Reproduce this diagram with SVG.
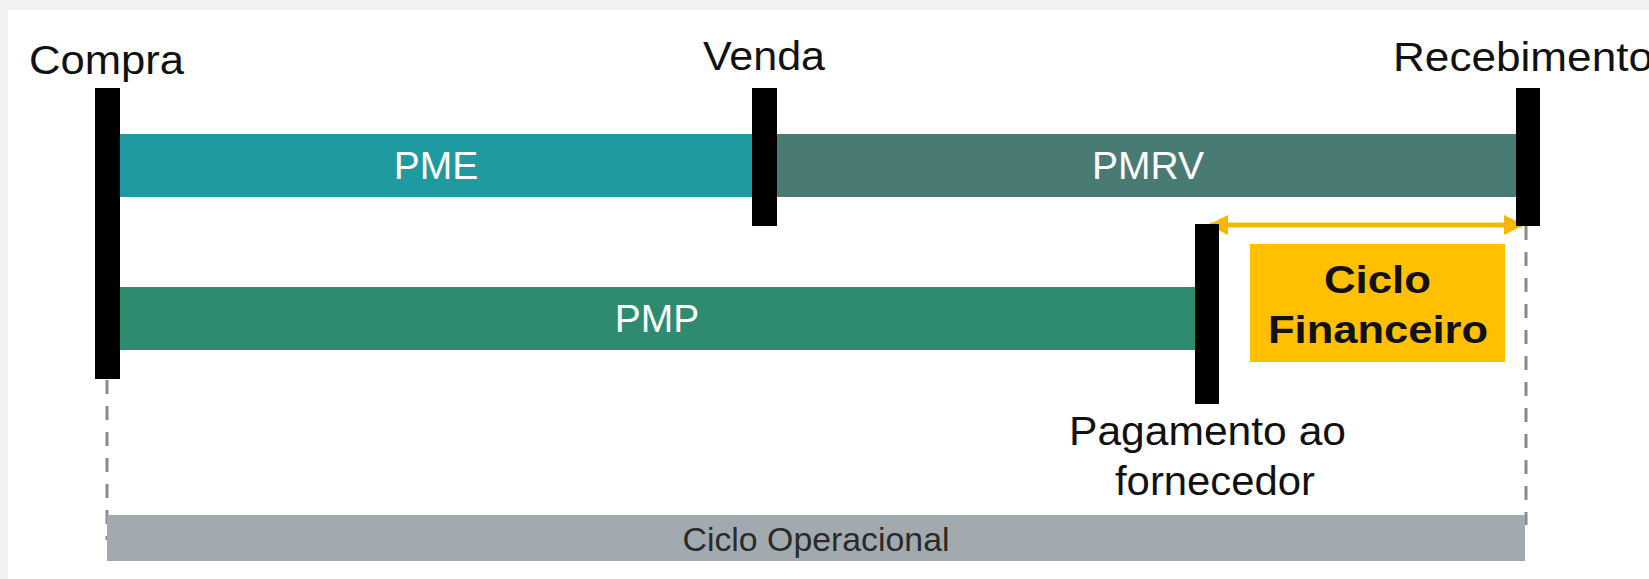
<svg xmlns="http://www.w3.org/2000/svg" width="1649" height="579" viewBox="0 0 1649 579">
<defs>
<style>
.lbl{font-family:"Liberation Sans",Arial,sans-serif;fill:#111;font-size:40px}
.bar{font-family:"Liberation Sans",Arial,sans-serif;fill:#ffffff;font-size:39px;text-anchor:middle}
.tick{fill:#000}
.dash{stroke:#8a8a8a;stroke-width:3;stroke-dasharray:14 12;fill:none}
</style>
<marker id="ah" viewBox="0 0 10 10" refX="9" refY="5" markerWidth="4" markerHeight="4" orient="auto-start-reverse" markerUnits="strokeWidth">
<path d="M0,0 L10,5 L0,10 z" fill="#f5b800"/>
</marker>
</defs>
<rect x="0" y="0" width="1649" height="579" fill="#f2f2f2"/>
<rect x="8" y="10" width="1641" height="569" fill="#ffffff"/>

<g id="connectors">
<line class="dash" x1="107" y1="380" x2="107" y2="540"/>
<line class="dash" x1="1526" y1="226" x2="1526" y2="525"/>
<line x1="1210" y1="225" x2="1522" y2="225" stroke="#f5b800" stroke-width="5" marker-start="url(#ah)" marker-end="url(#ah)"/>
</g>

<g id="ciclo-operacional">
<rect x="107" y="515" width="1418" height="46" fill="#a2aab0"/>
<text x="816" y="551" font-family="Liberation Sans, Arial, sans-serif" font-size="34" fill="#2a2a2a" text-anchor="middle" textLength="267" lengthAdjust="spacingAndGlyphs">Ciclo Operacional</text>
</g>

<g id="pme">
<rect x="120" y="134" width="634" height="63" fill="#1f9aa1"/>
<text class="bar" x="436" y="179">PME</text>
</g>
<g id="pmrv">
<rect x="776" y="134" width="742" height="63" fill="#4a7a74"/>
<text class="bar" x="1148" y="179">PMRV</text>
</g>
<g id="pmp">
<rect x="118" y="287" width="1079" height="63" fill="#2e8b70"/>
<text class="bar" x="657" y="332">PMP</text>
</g>

<g id="compra">
<rect class="tick" x="95" y="88" width="25" height="291"/>
<text class="lbl" x="29" y="74" textLength="155" lengthAdjust="spacingAndGlyphs">Compra</text>
</g>
<g id="venda">
<rect class="tick" x="752" y="88" width="25" height="138"/>
<text class="lbl" x="703" y="70" textLength="122" lengthAdjust="spacingAndGlyphs">Venda</text>
</g>
<g id="recebimento">
<rect class="tick" x="1516" y="88" width="24" height="138"/>
<text class="lbl" x="1393" y="71" textLength="260" lengthAdjust="spacingAndGlyphs">Recebimento</text>
</g>
<g id="pagamento">
<rect class="tick" x="1195" y="224" width="24" height="180"/>
<text class="lbl" x="1069" y="445" textLength="277" lengthAdjust="spacingAndGlyphs">Pagamento ao</text>
<text class="lbl" x="1115" y="495" textLength="200" lengthAdjust="spacingAndGlyphs">fornecedor</text>
</g>

<g id="ciclo-financeiro">
<rect x="1250" y="244" width="255" height="118" fill="#ffc000"/>
<text x="1324" y="293" font-family="Liberation Sans, Arial, sans-serif" font-weight="bold" font-size="38" fill="#111" textLength="107" lengthAdjust="spacingAndGlyphs">Ciclo</text>
<text x="1378" y="343" font-family="Liberation Sans, Arial, sans-serif" font-weight="bold" font-size="38" fill="#111" text-anchor="middle" textLength="220" lengthAdjust="spacingAndGlyphs">Financeiro</text>
</g>
</svg>
